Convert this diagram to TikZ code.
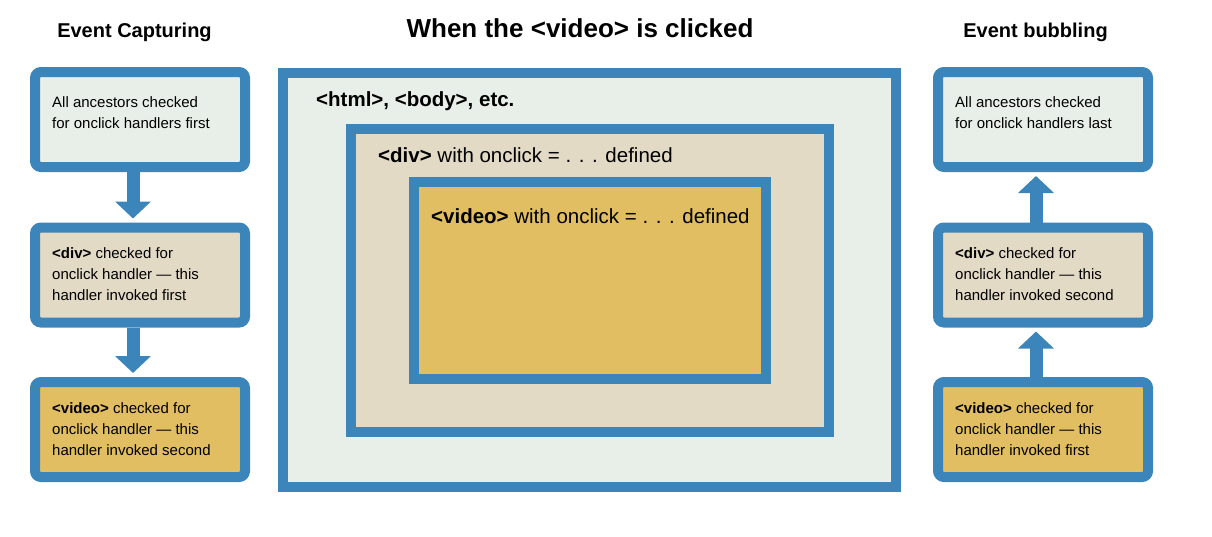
\documentclass[tikz,border=0pt]{standalone}
\usepackage{fontspec}
\setmainfont{Liberation Sans}
\usetikzlibrary{arrows.meta}
\definecolor{frameblue}{HTML}{3C85BA}
\definecolor{htmlfill}{HTML}{E8EFE9}
\definecolor{divfill}{HTML}{E3DAC6}
\definecolor{videofill}{HTML}{E2BE62}

\begin{document}
\begin{tikzpicture}[x=1pt,y=-1pt,
  stagebox/.style={draw=frameblue,line width=10pt,rounded corners=6pt,
    minimum width=210pt,minimum height=95pt,inner sep=0pt},
  layerbox/.style={draw=frameblue,line width=10pt,inner sep=0pt},
  boxtext/.style={anchor=north west,inner sep=0pt,align=left,
    font=\fontsize{15}{21}\selectfont},
  layertext/.style={anchor=base west,inner sep=0pt,font=\fontsize{20.5}{24}\selectfont},
  heading/.style={anchor=base,inner sep=0pt,font=\bfseries\fontsize{20}{24}\selectfont},
  flow/.style={frameblue,line width=13pt,shorten >=4pt,
    -{Triangle[width=35pt,length=17pt]}}]
  \useasboundingbox (0,0) rectangle (1212,536);
  % titles
  \node[heading] (captitle) at (134.5,37) {Event Capturing};
  \node[heading,font=\bfseries\fontsize{26}{30}\selectfont] (title) at (580,37)
        {When the <video> is clicked};
  \node[heading] (bubtitle) at (1035.5,37) {Event bubbling};
  % nested elements
  \node[layerbox,fill=htmlfill,minimum width=613pt,minimum height=414pt]
        (htmllayer) at (589.5,280) {};
  \node[layerbox,fill=divfill,minimum width=478pt,minimum height=303pt]
        (divlayer) at (590,280.5) {};
  \node[layerbox,fill=videofill,minimum width=352pt,minimum height=197pt]
        (videolayer) at (590,280.5) {};
  \node[layertext] (htmltext) at ([shift={(38,38)}]htmllayer.north west)
        {\textbf{<html>, <body>, etc.}};
  \node[layertext] (divtext) at ([shift={(32,38)}]divlayer.north west)
        {\textbf{<div>} with onclick = . . . defined};
  \node[layertext] (videotext) at ([shift={(22,46)}]videolayer.north west)
        {\textbf{<video>} with onclick = . . . defined};
  % capturing
  \node[stagebox,fill=htmlfill] (capall) at (140,119.5) {};
  \node[stagebox,fill=divfill] (capdiv) at (140,275) {};
  \node[stagebox,fill=videofill] (capvideo) at (140,429.5) {};
  \node[boxtext] (capalltext) at ([shift={(22,29)}]capall.north west)
        {All ancestors checked\\for onclick handlers first};
  \node[boxtext] (capdivtext) at ([shift={(22,25)}]capdiv.north west)
        {\textbf{<div>} checked for\\onclick handler — this\\handler invoked first};
  \node[boxtext] (capvideotext) at ([shift={(22,25)}]capvideo.north west)
        {\textbf{<video>} checked for\\onclick handler — this\\handler invoked second};
  \draw[flow] ([xshift=-7pt]capall.south) -- ([xshift=-7pt]capdiv.north);
  \draw[flow] ([xshift=-7pt]capdiv.south) -- ([xshift=-7pt]capvideo.north);
  % bubbling
  \node[stagebox,fill=htmlfill] (buball) at (1043,119.5) {};
  \node[stagebox,fill=divfill] (bubdiv) at (1043,275) {};
  \node[stagebox,fill=videofill] (bubvideo) at (1043,429.5) {};
  \node[boxtext] (buballtext) at ([shift={(22,29)}]buball.north west)
        {All ancestors checked\\for onclick handlers last};
  \node[boxtext] (bubdivtext) at ([shift={(22,25)}]bubdiv.north west)
        {\textbf{<div>} checked for\\onclick handler — this\\handler invoked second};
  \node[boxtext] (bubvideotext) at ([shift={(22,25)}]bubvideo.north west)
        {\textbf{<video>} checked for\\onclick handler — this\\handler invoked first};
  \draw[flow] ([xshift=-7pt]bubvideo.north) -- ([xshift=-7pt]bubdiv.south);
  \draw[flow] ([xshift=-7pt]bubdiv.north) -- ([xshift=-7pt]buball.south);
\end{tikzpicture}
\end{document}
